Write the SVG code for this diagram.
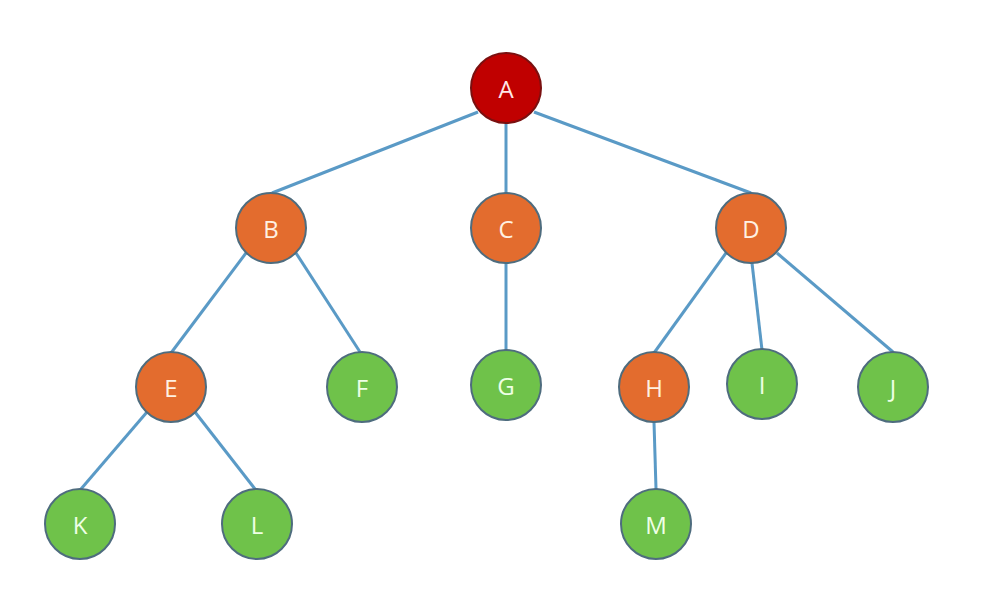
<svg xmlns="http://www.w3.org/2000/svg" width="995" height="610" viewBox="0 0 995 610">
<style>
.n{stroke:#4E6C7E;stroke-width:2}
.root{fill:#C00000;stroke:#7A1010}
.mid{fill:#E36C2E}
.leaf{fill:#6FC24A}
.t{font-family:"Open Sans","Liberation Sans",sans-serif;font-size:24px;text-anchor:middle;dominant-baseline:central}
.tr{fill:#FFE8E8}
.tm{fill:#FFF1E2}
.tl{fill:#EEFFE6}
.e{stroke:#5A9AC6;stroke-width:3;fill:none}
</style>
<rect width="995" height="610" fill="#FFFFFF"/>
<g id="connectors">
<line class="e" x1="478" y1="112" x2="272" y2="193"/>
<line class="e" x1="506" y1="122" x2="506" y2="193"/>
<line class="e" x1="534" y1="112" x2="751" y2="193"/>
<line class="e" x1="246" y1="253" x2="171" y2="353"/>
<line class="e" x1="296" y1="253" x2="360" y2="352"/>
<line class="e" x1="506" y1="263" x2="506" y2="351"/>
<line class="e" x1="726" y1="253" x2="654" y2="353"/>
<line class="e" x1="752" y1="263" x2="762" y2="350"/>
<line class="e" x1="777" y1="253" x2="893" y2="352"/>
<line class="e" x1="147" y1="412" x2="81" y2="489"/>
<line class="e" x1="195" y1="412" x2="255" y2="489"/>
<line class="e" x1="654" y1="422" x2="656" y2="489"/>
</g>
<g id="A"><circle class="n root" cx="506" cy="88" r="35"/><text class="t tr" x="506" y="88">A</text></g>
<g id="B"><circle class="n mid" cx="271" cy="228" r="35"/><text class="t tm" x="271" y="228">B</text></g>
<g id="C"><circle class="n mid" cx="506" cy="228" r="35"/><text class="t tm" x="506" y="228">C</text></g>
<g id="D"><circle class="n mid" cx="751" cy="228" r="35"/><text class="t tm" x="751" y="228">D</text></g>
<g id="E"><circle class="n mid" cx="171" cy="387" r="35"/><text class="t tm" x="171" y="387">E</text></g>
<g id="F"><circle class="n leaf" cx="362" cy="387" r="35"/><text class="t tl" x="362" y="387">F</text></g>
<g id="G"><circle class="n leaf" cx="506" cy="385" r="35"/><text class="t tl" x="506" y="385">G</text></g>
<g id="H"><circle class="n mid" cx="654" cy="387" r="35"/><text class="t tm" x="654" y="387">H</text></g>
<g id="I"><circle class="n leaf" cx="762" cy="384" r="35"/><text class="t tl" x="762" y="384">I</text></g>
<g id="J"><circle class="n leaf" cx="893" cy="387" r="35"/><text class="t tl" x="893" y="387">J</text></g>
<g id="K"><circle class="n leaf" cx="80" cy="524" r="35"/><text class="t tl" x="80" y="524">K</text></g>
<g id="L"><circle class="n leaf" cx="257" cy="524" r="35"/><text class="t tl" x="257" y="524">L</text></g>
<g id="M"><circle class="n leaf" cx="656" cy="524" r="35"/><text class="t tl" x="656" y="524">M</text></g>
</svg>
